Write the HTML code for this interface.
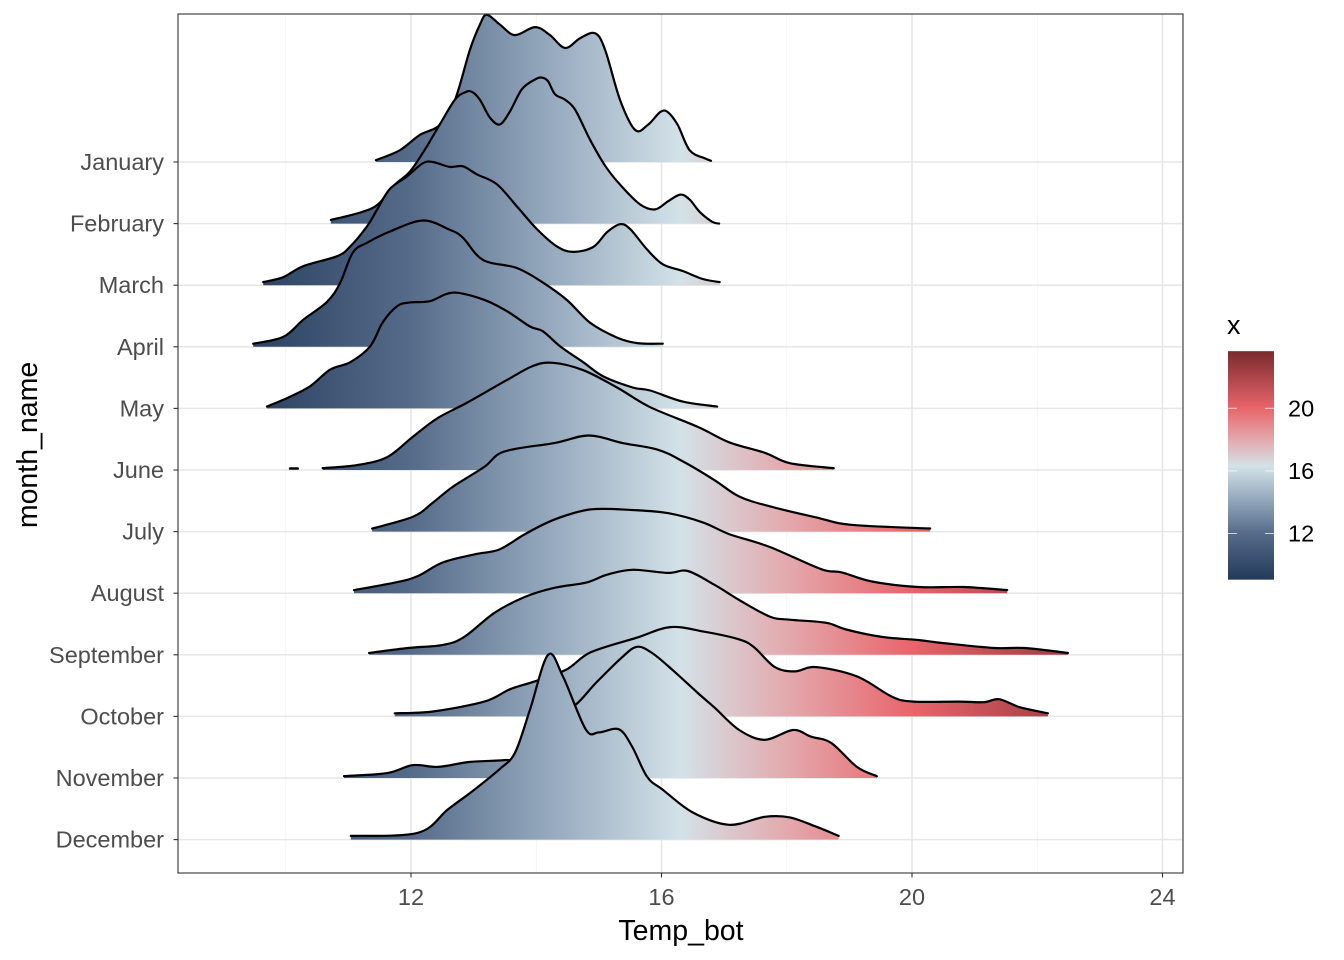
<!DOCTYPE html>
<html><head><meta charset="utf-8"><style>
body{margin:0;background:#fff;}
svg{display:block;font-family:"Liberation Sans",Arial,sans-serif;}
</style></head><body>
<svg id="chart" width="1344" height="960" viewBox="0 0 1344 960" xmlns="http://www.w3.org/2000/svg">
<defs>
<linearGradient id="fillGrad" gradientUnits="userSpaceOnUse" x1="0" y1="0" x2="1" y2="0"></linearGradient>
<linearGradient id="legendGrad" x1="0" y1="1" x2="0" y2="0"></linearGradient>
</defs>
<rect x="0" y="0" width="1344" height="960" fill="#fff"/>
<g id="grid"></g>
<g id="ridges"></g>
<rect x="178" y="14" width="1005" height="859" fill="none" stroke="#333" stroke-width="1.1"/>
<g id="axes"></g>
<text x="681" y="940" text-anchor="middle" font-size="28.5" fill="#000">Temp_bot</text>
<text transform="translate(37,445) rotate(-90)" text-anchor="middle" font-size="28.5" fill="#000">month_name</text>
<g id="legend"></g>
</svg>
<script>
const months = ["January","February","March","April","May","June","July","August","September","October","November","December"];
const xTicks = [12,16,20,24];
const xMinor = [10,14,18,22];
const legendTicks = [12,16,20];
const colorValues = [9.05,12,14,16.3,18,20,23.65];
const colorHex = ["#233a5a","#566b89","#8fa3b9","#d3e2e8","#e3a9ad","#e8656b","#7a2a2e"];
const janT=[11.44,11.82,12.14,12.46,12.70,12.94,13.10,13.21,13.42,13.66,13.98,14.22,14.46,14.70,14.94,15.10,15.34,15.58,15.78,15.98,16.10,16.26,16.45,16.69,16.79];
const janH=[0.03,0.19,0.44,0.6,1.0,1.82,2.23,2.39,2.23,2.06,2.19,2.06,1.85,2.01,2.09,1.82,1.0,0.52,0.6,0.81,0.81,0.6,0.19,0.06,0.02];
const febT=[10.72,11.19,11.47,11.74,11.98,12.22,12.46,12.70,12.86,12.97,13.10,13.26,13.42,13.58,13.77,13.98,14.09,14.19,14.30,14.46,14.62,14.86,15.10,15.34,15.66,15.90,16.10,16.30,16.45,16.61,16.81,16.92];
const febH=[0.06,0.18,0.31,0.63,0.84,1.2,1.61,2.01,2.13,2.14,2.01,1.72,1.61,1.82,2.18,2.34,2.37,2.31,2.10,2.01,1.85,1.36,0.94,0.63,0.31,0.23,0.36,0.47,0.39,0.19,0.03,0.0];
const marT=[9.64,9.96,10.28,10.82,11.03,11.30,11.46,11.66,11.94,12.19,12.35,12.62,12.83,13.05,13.37,13.69,14.01,14.33,14.59,14.91,15.13,15.34,15.50,15.77,16.02,16.34,16.66,16.93];
const marH=[0.05,0.13,0.31,0.47,0.63,0.96,1.23,1.56,1.77,1.98,2.0,1.92,1.93,1.80,1.64,1.28,0.91,0.63,0.54,0.62,0.86,0.99,0.91,0.58,0.34,0.23,0.10,0.05];
const aprT=[9.48,9.96,10.28,10.66,10.87,11.07,11.30,11.66,12.19,12.62,12.83,13.15,13.69,14.11,14.49,14.86,15.29,15.61,16.02];
const aprH=[0.05,0.16,0.44,0.73,1.04,1.53,1.69,1.87,2.05,1.90,1.77,1.41,1.28,1.04,0.76,0.39,0.15,0.06,0.05];
const mayT=[9.70,10.07,10.39,10.71,11.03,11.35,11.55,11.78,11.98,12.30,12.67,13.15,13.53,13.90,14.11,14.38,14.75,15.07,15.54,15.82,16.34,16.89];
const mayH=[0.03,0.19,0.36,0.63,0.75,1.01,1.40,1.66,1.72,1.74,1.88,1.77,1.58,1.33,1.25,1.01,0.75,0.52,0.34,0.29,0.11,0.03];
const junT=[10.59,11.14,11.62,12.03,12.42,12.89,13.53,13.95,14.27,14.75,15.29,15.82,16.58,17.08,17.65,18.05,18.75];
const junH=[0.03,0.08,0.21,0.54,0.84,1.09,1.46,1.69,1.74,1.62,1.34,1.02,0.70,0.45,0.28,0.11,0.03];
const julT=[11.38,12.03,12.35,12.67,13.17,13.49,14.30,14.84,15.37,15.94,16.34,16.84,17.24,17.73,18.47,19.03,20.29];
const julH=[0.05,0.24,0.47,0.73,1.05,1.30,1.44,1.56,1.44,1.33,1.14,0.84,0.57,0.41,0.23,0.11,0.05];
const augT=[11.09,11.78,12.11,12.51,13.01,13.41,13.82,14.30,14.87,15.53,16.10,16.66,17.08,17.73,18.55,18.87,19.36,20.10,20.83,21.52];
const augH=[0.05,0.18,0.28,0.50,0.63,0.71,0.96,1.20,1.36,1.35,1.30,1.15,0.96,0.75,0.39,0.34,0.19,0.10,0.10,0.05];
const sepT=[11.33,11.95,12.51,12.85,13.33,13.82,14.30,14.79,15.13,15.53,16.10,16.42,16.84,17.24,17.73,18.05,18.63,18.95,19.52,20.10,20.50,21.31,21.80,22.49];
const sepH=[0.03,0.11,0.16,0.29,0.68,0.94,1.09,1.17,1.30,1.38,1.33,1.36,1.14,0.89,0.62,0.57,0.52,0.41,0.29,0.24,0.19,0.11,0.11,0.03];
const octT=[11.74,12.35,13.17,13.58,13.98,14.48,14.87,15.61,16.14,16.66,17.24,17.48,17.81,18.13,18.47,19.12,19.68,20.02,20.75,21.15,21.39,21.72,22.17];
const octH=[0.05,0.08,0.24,0.44,0.57,0.76,1.04,1.28,1.45,1.38,1.25,1.12,0.80,0.73,0.80,0.65,0.32,0.24,0.24,0.23,0.28,0.15,0.05];
const novT=[10.93,11.62,12.03,12.43,12.93,13.49,13.74,14.19,14.63,14.95,15.37,15.61,15.85,16.18,16.58,16.84,17.24,17.65,18.10,18.39,18.71,19.12,19.44];
const novH=[0.03,0.08,0.21,0.18,0.26,0.29,0.34,0.9,1.19,1.54,1.96,2.13,2.03,1.75,1.38,1.15,0.78,0.62,0.78,0.67,0.57,0.18,0.03];
const decT=[11.04,12.11,12.59,13.01,13.41,13.66,13.90,14.19,14.43,14.79,15.0,15.32,15.53,15.77,16.02,16.50,17.08,17.65,18.05,18.47,18.83];
const decH=[0.06,0.11,0.49,0.81,1.14,1.41,2.11,3.0,2.64,1.79,1.74,1.79,1.51,1.02,0.81,0.44,0.24,0.37,0.36,0.21,0.06];
const juneStray=[10.07,10.19];

const ridgeT=[janT,febT,marT,aprT,mayT,junT,julT,augT,sepT,octT,novT,decT];
const ridgeH=[janH,febH,marH,aprH,mayH,junH,julH,augH,sepH,octH,novH,decH];

const NS="http://www.w3.org/2000/svg";
const X0=178,X1=1183,Y0=14,Y1=873;
function xs(v){return 411+(v-12)*62.625;}
function ys(i){return 162+i*61.6;}
function hs(h){return h*61.6;}
function legY(v){return 533.5-(v-12)*15.65;}
function mk(tag,attrs,parent){const e=document.createElementNS(NS,tag);for(const k in attrs)e.setAttribute(k,attrs[k]);parent.appendChild(e);return e;}

const fg=document.getElementById('fillGrad');
fg.setAttribute('x1',xs(colorValues[0]));fg.setAttribute('x2',xs(colorValues[colorValues.length-1]));
const lg=document.getElementById('legendGrad');
const span=colorValues[colorValues.length-1]-colorValues[0];
colorValues.forEach((v,i)=>{
  const off=((v-colorValues[0])/span*100)+'%';
  mk('stop',{offset:off,'stop-color':colorHex[i]},fg);
  mk('stop',{offset:off,'stop-color':colorHex[i]},lg);
});

const grid=document.getElementById('grid');
xMinor.forEach(v=>{const l=mk('line',{x1:xs(v),x2:xs(v),y1:Y0,y2:Y1,stroke:'#f0f0f0','stroke-width':0.8},grid);

});
xTicks.forEach(v=>{const l=mk('line',{x1:xs(v),x2:xs(v),y1:Y0,y2:Y1,stroke:'#e6e6e6','stroke-width':1.5},grid);

});
months.forEach((m,i)=>{const l=mk('line',{x1:X0,x2:X1,y1:ys(i),y2:ys(i),stroke:'#e6e6e6','stroke-width':1.5},grid);

});

const rg=document.getElementById('ridges');
months.forEach((m,i)=>{
  const T=ridgeT[i],H=ridgeH[i],b=ys(i);
  let pts=T.map((t,j)=>[xs(t),b-hs(H[j])]);
  let d='M'+pts[0][0]+','+pts[0][1];
  for(let j=0;j<pts.length-1;j++){
    const p0=pts[Math.max(j-1,0)],p1=pts[j],p2=pts[j+1],p3=pts[Math.min(j+2,pts.length-1)];
    const c1=[p1[0]+(p2[0]-p0[0])/6,p1[1]+(p2[1]-p0[1])/6];
    const c2=[p2[0]-(p3[0]-p1[0])/6,p2[1]-(p3[1]-p1[1])/6];
    d+=' C'+c1[0].toFixed(1)+','+c1[1].toFixed(1)+' '+c2[0].toFixed(1)+','+c2[1].toFixed(1)+' '+p2[0].toFixed(1)+','+p2[1].toFixed(1);
  }
  const area=mk('path',{d:d+' L'+pts[pts.length-1][0]+','+b+' L'+pts[0][0]+','+b+' Z',fill:'url(#fillGrad)',stroke:'none'},rg);
  
  
  const line=mk('path',{d:d,fill:'none',stroke:'#000','stroke-width':2.2,'stroke-linejoin':'round','stroke-linecap':'round'},rg);
  
  
  if(i===5){
    const s=mk('line',{x1:xs(juneStray[0]),x2:xs(juneStray[1]),y1:b-1.5,y2:b-1.5,stroke:'#000','stroke-width':2.6,'stroke-linecap':'round'},rg);
    
    
  }
});

const ax=document.getElementById('axes');
months.forEach((m,i)=>{
  const t=mk('line',{x1:173.5,x2:178,y1:ys(i),y2:ys(i),stroke:'#333','stroke-width':1.1},ax);
  
  
  const lb=mk('text',{x:164,y:ys(i)+8,'text-anchor':'end','font-size':'23.5',fill:'#4d4d4d'},ax);
  lb.textContent=m;
  
  
});
xTicks.forEach(v=>{
  const t=mk('line',{x1:xs(v),x2:xs(v),y1:873,y2:877.5,stroke:'#333','stroke-width':1.1},ax);
  
  
  const lb=mk('text',{x:xs(v),y:905,'text-anchor':'middle','font-size':'23.5',fill:'#4d4d4d'},ax);
  lb.textContent=v;
  
  
});

const leg=document.getElementById('legend');
const lt=mk('text',{x:1227,y:334,'font-size':'27',fill:'#000'},leg);
lt.textContent='x';


const bar=mk('rect',{x:1228,y:legY(colorValues[colorValues.length-1]),width:46,height:legY(colorValues[0])-legY(colorValues[colorValues.length-1]),fill:'url(#legendGrad)'},leg);


legendTicks.forEach(v=>{
  const a=mk('line',{x1:1228,x2:1237,y1:legY(v),y2:legY(v),stroke:'#fff','stroke-width':1,'stroke-opacity':0.7},leg);
  
  
  const b=mk('line',{x1:1265,x2:1274,y1:legY(v),y2:legY(v),stroke:'#fff','stroke-width':1,'stroke-opacity':0.7},leg);
  
  
  const lb=mk('text',{x:1288,y:legY(v)+8,'font-size':'23.5',fill:'#000'},leg);
  lb.textContent=v;
  
  
});
</script>
</body></html>
